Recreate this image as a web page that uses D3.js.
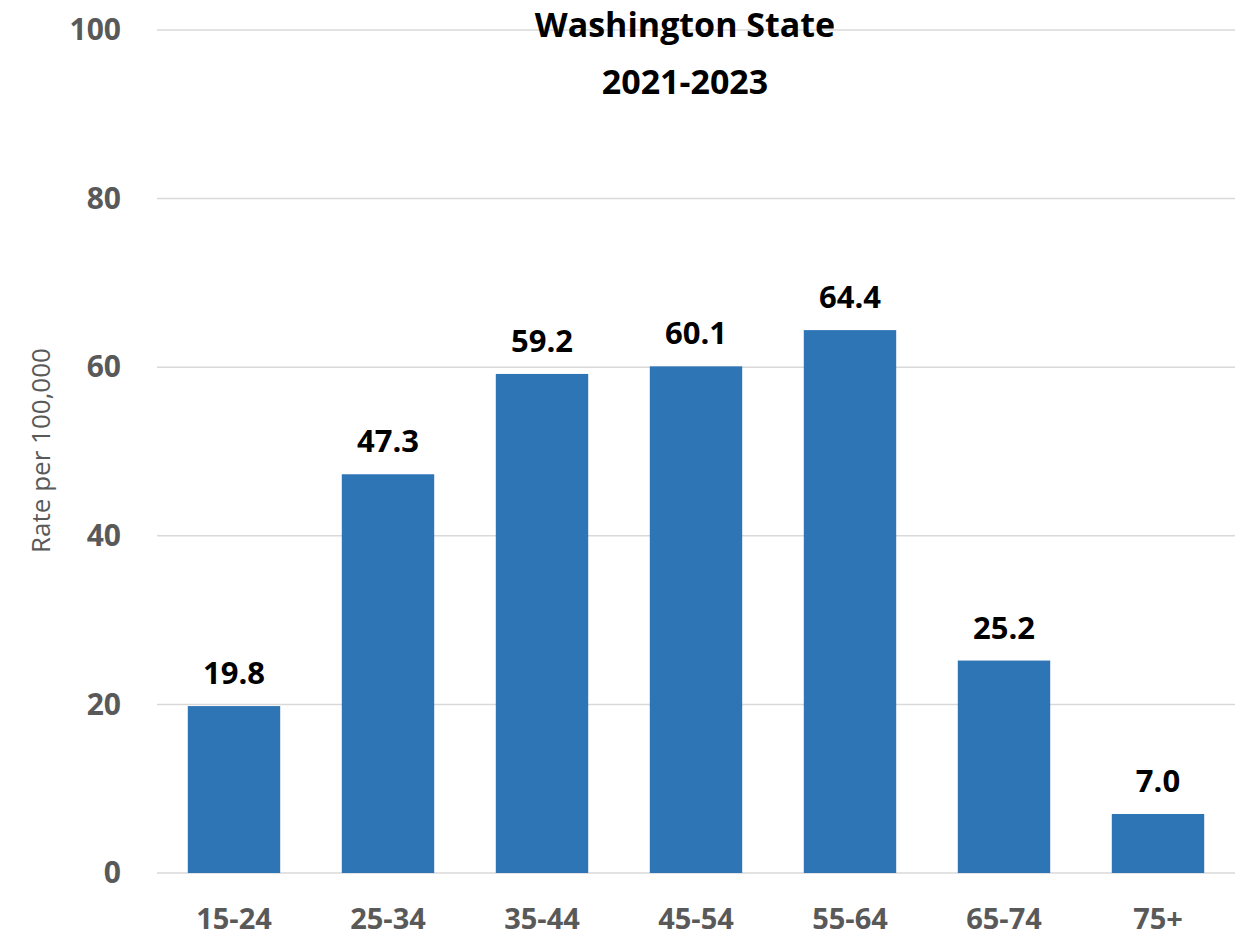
<!DOCTYPE html>
<html lang="en">
<head>
    <meta charset="UTF-8">
    <title>Washington State 2021-2023</title>
    <script src="https://d3js.org/d3.v7.min.js"></script>
    <style>
      body { margin: 0; background: #fff; }
      text { font-family: "Open Sans", sans-serif; }
    </style>
</head>
<body>
  <script>
    // data
    var ageGroups = ["15-24", "25-34", "35-44", "45-54", "55-64", "65-74", "75+"];
    var rates = [19.8, 47.3, 59.2, 60.1, 64.4, 25.2, 7.0];
    var yTicks = [0, 20, 40, 60, 80, 100];
    var titleLines = ["Washington State", "2021-2023"];

    var data = ageGroups.map(function(g, i) { return {group: g, value: rates[i]}; });

    var margin = {top: 30, right: 4, bottom: 67, left: 157},
        fullW = 1239, fullH = 940,
        width = fullW - margin.left - margin.right,
        height = fullH - margin.top - margin.bottom;

    var svg = d3.select("body")
      .append("svg")
        .attr("width", fullW)
        .attr("height", fullH)
      .append("g")
        .attr("transform", "translate(" + margin.left + "," + margin.top + ")");

    var x = d3.scaleBand()
        .domain(ageGroups)
        .range([0, 1078])
        .paddingInner(0.4)
        .paddingOuter(0.2);

    var y = d3.scaleLinear()
        .domain([0, 100])
        .range([height, 0]);

    // gridlines
    svg.append("g")
      .selectAll("line")
      .data(yTicks)
      .enter().append("line")
        .attr("x1", 0)
        .attr("x2", 1078)
        .attr("y1", function(d) { return y(d); })
        .attr("y2", function(d) { return y(d); })
        .attr("stroke", "#d9d9d9")
        .attr("stroke-width", 1.5);

    // y axis labels
    var yAxis = svg.append("g")
        .call(d3.axisLeft(y).tickValues(yTicks).tickSize(0).tickPadding(36));
    yAxis.select(".domain").remove();
    yAxis.selectAll("text")
        .attr("fill", "#595959")
        .style("font-size", "30px")
        .style("font-weight", "bold");

    // x axis labels
    var xAxis = svg.append("g")
        .attr("transform", "translate(0," + height + ")")
        .call(d3.axisBottom(x).tickSize(0));
    xAxis.select(".domain").remove();
    xAxis.selectAll("text")
        .attr("y", 56)
        .attr("dy", 0)
        .attr("fill", "#595959")
        .style("font-size", "29px")
        .style("font-weight", "bold");

    // bars
    svg.append("g")
      .selectAll("rect")
      .data(data)
      .enter().append("rect")
        .attr("x", function(d) { return x(d.group); })
        .attr("y", function(d) { return y(d.value); })
        .attr("width", x.bandwidth())
        .attr("height", function(d) { return y(0) - y(d.value); })
        .attr("fill", "#2e75b6");

    // value labels
    svg.append("g")
      .selectAll("text")
      .data(data)
      .enter().append("text")
        .attr("x", function(d) { return x(d.group) + x.bandwidth() / 2; })
        .attr("y", function(d) { return y(d.value) - 22; })
        .attr("text-anchor", "middle")
        .style("font-size", "31px")
        .style("font-weight", "bold")
        .attr("fill", "#000")
        .text(function(d) { return d.value.toFixed(1); });

    // title
    svg.append("g")
      .selectAll("text")
      .data(titleLines)
      .enter().append("text")
        .attr("x", 528)
        .attr("y", function(d, i) { return 7 + i * 57; })
        .attr("text-anchor", "middle")
        .style("font-size", "34px")
        .style("font-weight", "bold")
        .attr("fill", "#000")
        .text(function(d) { return d; });

    // y axis title
    svg.append("text")
        .attr("transform", "translate(" + (-107) + "," + (height / 2 - 1) + ") rotate(-90)")
        .attr("text-anchor", "middle")
        .style("font-size", "26px")
        .attr("fill", "#595959")
        .text("Rate per 100,000");
  </script>
</body>
</html>
